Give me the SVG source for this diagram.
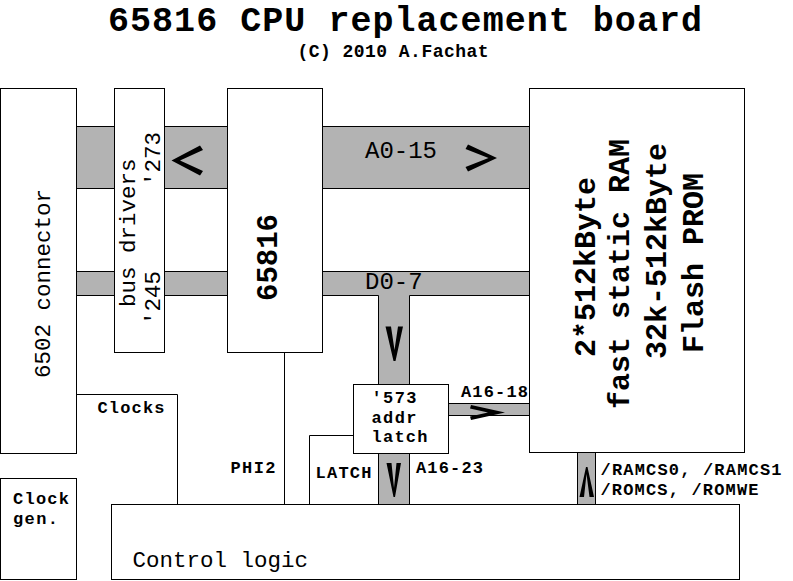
<svg xmlns="http://www.w3.org/2000/svg" width="793" height="581" viewBox="0 0 793 581">
<style>
text{font-family:"Liberation Mono","Courier New",monospace;fill:#000}
.b{font-weight:bold}
.box{fill:#fff;stroke:#000;stroke-width:1}
.bus{fill:#b3b3b3;stroke:#000;stroke-width:1}
.wire{fill:none;stroke:#000;stroke-width:1}
.arr{fill:#000;stroke:none}
.s{font-size:17px;font-weight:bold}
</style>
<rect width="793" height="581" fill="#fff"/>
<text class="b" x="108" y="30.5" font-size="35" textLength="594" lengthAdjust="spacing">65816 CPU replacement board</text>
<text class="b" x="297.5" y="57" font-size="18" textLength="191" lengthAdjust="spacing">(C) 2010 A.Fachat</text>
<g id="connectors">
<rect class="bus" x="76.5" y="126.5" width="453" height="62"/>
<path class="bus" d="M76.5,271.5 H529.5 V295.5 H409.5 V384.5 H378.5 V295.5 H76.5 Z"/>
<rect class="bus" x="448.5" y="403.5" width="81" height="12"/>
<rect class="bus" x="378.5" y="453.5" width="31" height="51"/>
<rect class="bus" x="577.5" y="452.5" width="18" height="52"/>
<path class="wire" d="M76.5,394.5 H177.5 V504.5"/>
<path class="wire" d="M284.5,352.5 V504.5"/>
<path class="wire" d="M353.5,435.5 H309.5 V504.5"/>
<polygon class="arr" points="171.5,160.5 200,145.5 203,150 180,160.5 203,171 200,175.5"/>
<polygon class="arr" points="497,158 468,144.5 465.5,149 488.5,158 465.5,167 468,171.5"/>
<polygon class="arr" points="385.5,326.5 391,326.5 394.5,350 398,326.5 403,326.5 395.5,361 393.5,361"/>
<polygon class="arr" points="471,405 505,412.5 471,420 470,416.5 488,412.5 470,408.5"/>
<polygon class="arr" points="386.5,463 391.5,463 394,488 396.5,463 401,463 395,497 393.5,497"/>
<polygon class="arr" points="579.5,497 584,497 586.5,474 589.5,497 594,497 587.5,467 586,467"/>
<text x="365" y="157.5" font-size="24">A0-15</text>
<text x="365" y="288.5" font-size="24">D0-7</text>
<text class="s" x="461" y="397" textLength="67" lengthAdjust="spacing">A16-18</text>
<text class="s" x="416" y="472.5" textLength="67" lengthAdjust="spacing">A16-23</text>
<text class="s" x="315.5" y="478" textLength="56" lengthAdjust="spacing">LATCH</text>
<text class="s" x="97.5" y="412.5" textLength="67" lengthAdjust="spacing">Clocks</text>
<text class="s" x="230.5" y="472.5" textLength="45" lengthAdjust="spacing">PHI2</text>
<text class="s" x="600.5" y="475" textLength="181" lengthAdjust="spacing">/RAMCS0, /RAMCS1</text>
<text class="s" x="600.5" y="494.5" textLength="158" lengthAdjust="spacing">/ROMCS, /ROMWE</text>
</g>
<g id="conn6502">
<rect class="box" x="0.5" y="88.5" width="76" height="365"/>
<text x="50" y="378" font-size="22.5" transform="rotate(-90 50 378)">6502 connector</text>
</g>
<g id="busdrivers">
<rect class="box" x="114.5" y="88.5" width="50" height="264"/>
<text x="135" y="307" font-size="22.5" transform="rotate(-90 135 307)">bus drivers</text>
<text x="160" y="325" font-size="22.5" transform="rotate(-90 160 325)">'245</text>
<text x="160" y="186" font-size="22.5" transform="rotate(-90 160 186)">'273</text>
</g>
<g id="cpu">
<rect class="box" x="227.5" y="88.5" width="95" height="264"/>
<text class="b" x="277" y="301" font-size="29" transform="rotate(-90 277 301)">65816</text>
</g>
<g id="memory">
<rect class="box" x="529.5" y="88.5" width="215" height="364"/>
<text class="b" x="595" y="357" font-size="30" transform="rotate(-90 595 357)">2*512kByte</text>
<text class="b" x="629" y="409" font-size="30" transform="rotate(-90 629 409)">fast static RAM</text>
<text class="b" x="666" y="359" font-size="30" transform="rotate(-90 666 359)">32k-512kByte</text>
<text class="b" x="703" y="353" font-size="30" transform="rotate(-90 703 353)">Flash PROM</text>
</g>
<g id="latch">
<rect class="box" x="353.5" y="384.5" width="95" height="69"/>
<text class="s" x="371.5" y="403" textLength="45" lengthAdjust="spacing">'573</text>
<text class="s" x="371.5" y="422.5" textLength="45" lengthAdjust="spacing">addr</text>
<text class="s" x="371.5" y="442" textLength="56" lengthAdjust="spacing">latch</text>
</g>
<g id="clockgen">
<rect class="box" x="0.5" y="478.5" width="76" height="101"/>
<text class="s" x="13" y="504" textLength="56" lengthAdjust="spacing">Clock</text>
<text class="s" x="13" y="523.5" textLength="45" lengthAdjust="spacing">gen.</text>
</g>
<g id="control">
<rect class="box" x="111.5" y="504.5" width="628" height="75"/>
<text x="132.5" y="566.5" font-size="22.5">Control logic</text>
</g>
</svg>
